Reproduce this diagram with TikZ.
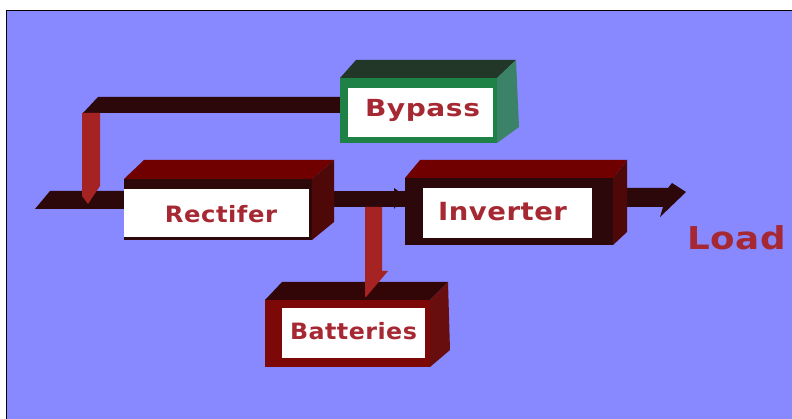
\documentclass[tikz,border=0pt]{standalone}
\usepackage{fontspec}
\usepackage{graphicx}
\newfontfamily\lblfont{DejaVu Sans}[LetterSpace=2]
\definecolor{bgblue}{RGB}{136,136,255}
\definecolor{bardark}{RGB}{45,8,10}
\definecolor{topred}{RGB}{112,0,0}
\definecolor{sidedark}{RGB}{78,8,8}
\definecolor{txtred}{RGB}{166,40,50}
\definecolor{arrred}{RGB}{165,35,35}
\definecolor{bpgreen}{RGB}{30,130,70}
\definecolor{bptop}{RGB}{35,55,40}
\definecolor{bpright}{RGB}{60,130,105}
\definecolor{batred}{RGB}{125,8,8}
\definecolor{battop}{RGB}{50,6,6}
\definecolor{batright}{RGB}{105,14,14}
\tikzset{
  lbl/.style={anchor=base, inner sep=0pt, text=txtred, font=\lblfont\bfseries},
}
\newcommand\fitw[3]{\resizebox{#1pt}{\height}{\fontsize{#2}{#2}\selectfont #3}}
\begin{document}
\begin{tikzpicture}[x=1pt,y=-1pt]
\useasboundingbox (0,0) rectangle (792,419);
\fill[white] (0,0) rectangle (792,419);
\fill[bgblue] (7,11) rectangle (792,419);
\draw[black,line width=1.6pt] (6.5,419) -- (6.5,10.5) -- (792,10.5);

% dark bars (behind boxes)
\fill[bardark] (35,209) -- (50,191) -- (124,191) -- (124,209) -- cycle;
\fill[bardark] (312,191) rectangle (405,207);
\fill[bardark] (394,188) -- (404,195) -- (394,209) -- cycle;
\fill[bardark] (613,188) -- (668,188) -- (672,183) -- (686,192) -- (660,217) -- (663,207) -- (613,207) -- cycle;
\fill[bardark] (83,113) -- (98,97) -- (340,97) -- (340,113) -- cycle;

% Rectifier box
\fill[bardark] (124,179) rectangle (312,240);
\fill[topred] (124,179) -- (144,160) -- (334,160) -- (312,179) -- cycle;
\fill[sidedark] (312,179) -- (334,160) -- (334,222) -- (312,240) -- cycle;
\fill[white] (124,189) rectangle (309,237);

% Inverter box
\fill[bardark] (405,178) rectangle (613,245);
\fill[topred] (405,178) -- (420,160) -- (627,160) -- (613,178) -- cycle;
\fill[sidedark] (613,178) -- (627,160) -- (627,232) -- (613,245) -- cycle;
\fill[white] (423,188) rectangle (592,238);

% Bypass box
\fill[bpgreen] (340,78) rectangle (497,143);
\fill[bptop] (340,78) -- (356,60) -- (516,60) -- (497,78) -- cycle;
\fill[bpright] (497,78) -- (516,60) -- (519,127) -- (497,143) -- cycle;
\fill[white] (348,88) rectangle (493,137);

% Batteries box
\fill[batred] (265,300) rectangle (430,367);
\fill[battop] (265,300) -- (282,282) -- (448,282) -- (430,300) -- cycle;
\fill[batright] (430,300) -- (448,282) -- (450,350) -- (430,367) -- cycle;
\fill[white] (282,308) rectangle (425,358);

% red arrows
\fill[arrred] (82,113) -- (100,113) -- (100,186) -- (88,204) -- (82,196) -- cycle;
\fill[arrred] (365,207) -- (382,207) -- (382,271) -- (388,271) -- (366,297) -- (365,297) -- cycle;

% labels
\node[lbl] (rect) at (221,223) {\fitw{112}{22.5}{Rectifer}};
\node[lbl] (inv) at (502.5,221) {\fitw{129}{25}{Inverter}};
\node[lbl] (byp) at (422.5,117) {\fitw{115}{23.5}{Bypass}};
\node[lbl] (bat) at (353.5,339) {\fitw{127}{22.5}{Batteries}};
\node[lbl] (load) at (736.5,250) {\fitw{99}{31.5}{Load}};
\end{tikzpicture}
\end{document}
